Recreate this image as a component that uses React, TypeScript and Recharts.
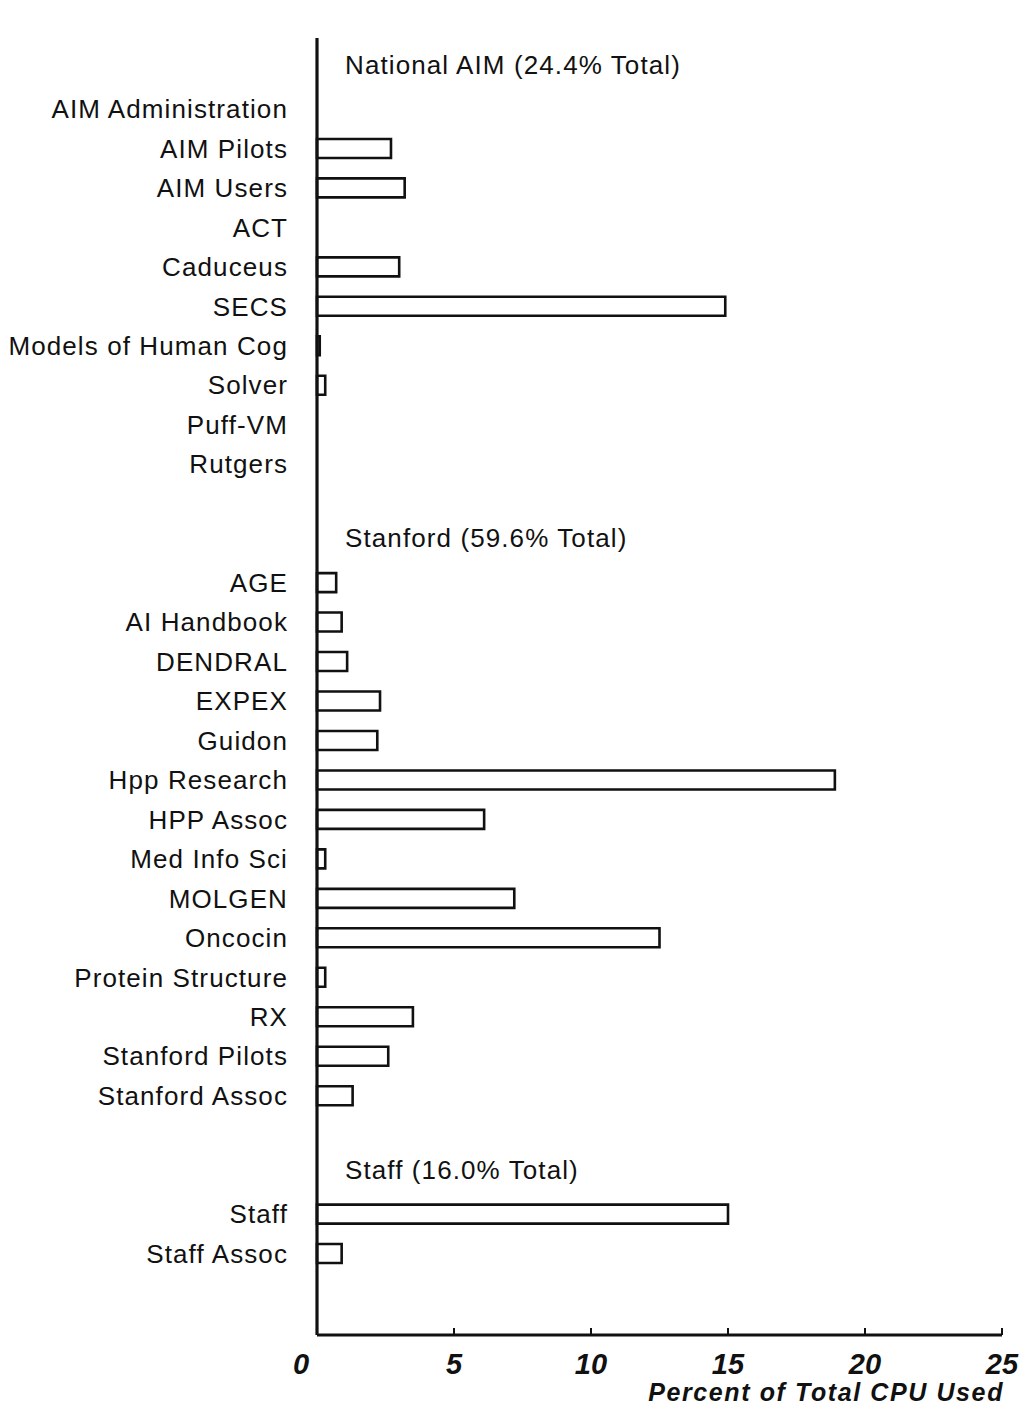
import React from 'react';
import { BarChart, Bar, XAxis, YAxis, Label } from 'recharts';

const groupTitles = ['National AIM (24.4% Total)', 'Stanford (59.6% Total)', 'Staff (16.0% Total)'];

const nationalAimProjects = [
  'AIM Administration', 'AIM Pilots', 'AIM Users', 'ACT', 'Caduceus',
  'SECS', 'Models of Human Cog', 'Solver', 'Puff-VM', 'Rutgers',
];
const nationalAimCpu = [0, 2.7, 3.2, 0, 3.0, 14.9, 0.1, 0.3, 0, 0];

const stanfordProjects = [
  'AGE', 'AI Handbook', 'DENDRAL', 'EXPEX', 'Guidon', 'Hpp Research', 'HPP Assoc',
  'Med Info Sci', 'MOLGEN', 'Oncocin', 'Protein Structure', 'RX', 'Stanford Pilots', 'Stanford Assoc',
];
const stanfordCpu = [0.7, 0.9, 1.1, 2.3, 2.2, 18.9, 6.1, 0.3, 7.2, 12.5, 0.3, 3.5, 2.6, 1.3];

const staffProjects = ['Staff', 'Staff Assoc'];
const staffCpu = [15.0, 0.9];

const xTicks = [0, 5, 10, 15, 20, 25];
const xTitle = 'Percent of Total CPU Used';

const FONT = '"Liberation Sans", Arial, Helvetica, sans-serif';
const INK = '#111';

// one row per project, plus a title row and an empty row for each group
const groups = [
  { title: groupTitles[0], names: nationalAimProjects, values: nationalAimCpu },
  { title: groupTitles[1], names: stanfordProjects, values: stanfordCpu },
  { title: groupTitles[2], names: staffProjects, values: staffCpu },
];

const rows: { name: string; cpu: number | null }[] = [];
groups.forEach((g) => {
  rows.push({ name: g.title, cpu: null });
  g.names.forEach((n, i) => rows.push({ name: n, cpu: g.values[i] || null }));
  rows.push({ name: '', cpu: null });
});

const ProjectTick = ({ x, y, payload }: any) => {
  const v = payload.value;
  if (!v) return null;
  const isTitle = groupTitles.includes(v);
  return (
    <text
      x={isTitle ? x + 28 : x - 29}
      y={y}
      dy={isTitle ? 4 : 9}
      textAnchor={isTitle ? 'start' : 'end'}
      fill={INK}
      fontSize={26}
      fontFamily={FONT}
      style={{ letterSpacing: 1.1 }}
    >
      {v}
    </text>
  );
};

const PercentTick = ({ x, y, payload }: any) => (
  <g>
    {payload.value !== 0 && <line x1={x} y1={y} x2={x} y2={y - 7} stroke={INK} strokeWidth={2} />}
    <text
      x={payload.value === 0 ? x - 16 : x}
      y={y + 39}
      textAnchor="middle"
      fill={INK}
      fontSize={29}
      fontStyle="italic"
      fontWeight="bold"
      fontFamily={FONT}
    >
      {payload.value}
    </text>
  </g>
);

const AxisTitle = ({ viewBox }: any) => (
  <text
    x={viewBox.x + viewBox.width + 2}
    y={viewBox.y + 66}
    textAnchor="end"
    fill={INK}
    fontSize={25}
    fontStyle="italic"
    fontWeight="bold"
    fontFamily={FONT}
    style={{ letterSpacing: 1.6 }}
  >
    {xTitle}
  </text>
);

const App = () => {
  return (
    <div style={{ position: 'absolute', left: 0, top: 0, width: 1028, height: 1408, background: '#fff' }}>
      <BarChart
        width={1028}
        height={1408}
        data={rows}
        layout="vertical"
        margin={{ top: 38, right: 26, left: 17, bottom: 0 }}
      >
        <XAxis
          type="number"
          domain={[0, 25]}
          ticks={xTicks}
          height={73}
          axisLine={{ stroke: INK, strokeWidth: 2.8 }}
          tickLine={false}
          tickSize={0}
          tickMargin={0}
          tick={<PercentTick />}
        >
          <Label content={<AxisTitle />} />
        </XAxis>
        <YAxis
          type="category"
          dataKey="name"
          width={300}
          interval={0}
          padding={{ top: 12, bottom: 22 }}
          axisLine={{ stroke: INK, strokeWidth: 3.2 }}
          tickLine={false}
          tickSize={0}
          tickMargin={0}
          tick={<ProjectTick />}
        />
        <Bar
          dataKey="cpu"
          fill="#fff"
          stroke={INK}
          strokeWidth={2.6}
          barSize={19}
          isAnimationActive={false}
        />
      </BarChart>
    </div>
  );
};

export default App;
